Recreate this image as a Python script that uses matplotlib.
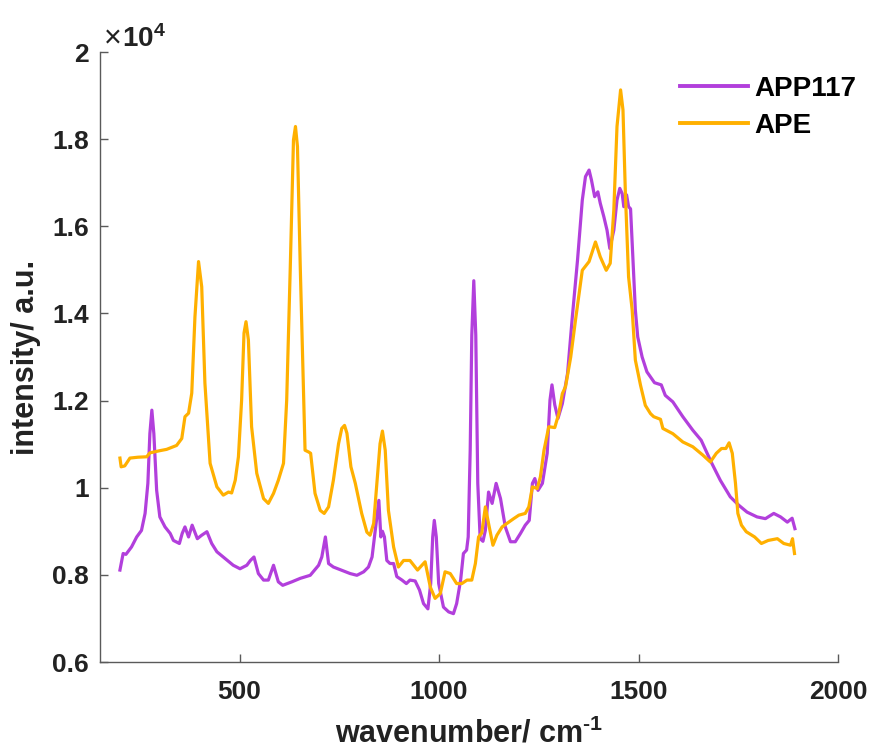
import matplotlib
matplotlib.use("Agg")
import matplotlib.pyplot as plt
from matplotlib.ticker import FuncFormatter

# ---------------- data (intensity in units of 1e4) ----------------
ape_x = [200, 203, 212, 225, 245, 267, 275, 300, 317, 342, 355, 363, 372, 380, 388, 397, 405, 413,
         426, 443, 459, 472, 480, 489, 497, 505, 511, 516, 522, 530, 543, 560, 572, 585, 597, 610,
         618, 627, 635, 640, 645, 652, 664, 673, 678, 689, 702, 712, 723, 735, 748, 756, 763, 769,
         779, 790, 806, 819, 827, 836, 844, 852, 858, 865, 873, 886, 898, 911, 927, 946, 965, 978,
         990, 1003, 1015, 1028, 1044, 1057, 1070, 1082, 1091, 1099, 1107, 1116, 1124, 1135, 1145,
         1158, 1170, 1187, 1200, 1216, 1225, 1234, 1246, 1254, 1263, 1275, 1290, 1300, 1309, 1317,
         1330, 1342, 1359, 1376, 1392, 1404, 1419, 1429, 1438, 1446, 1455, 1461, 1467, 1475, 1484,
         1492, 1505, 1517, 1530, 1538, 1555, 1561, 1586, 1611, 1636, 1661, 1680, 1695, 1708, 1719,
         1727, 1735, 1743, 1749, 1758, 1770, 1791, 1808, 1825, 1848, 1864, 1881, 1886, 1891]
ape_y = [1.068, 1.048, 1.050, 1.068, 1.070, 1.071, 1.080, 1.085, 1.088, 1.097, 1.113, 1.163, 1.171,
         1.217, 1.392, 1.519, 1.461, 1.240, 1.056, 1.002, 0.983, 0.990, 0.988, 1.017, 1.071, 1.201,
         1.355, 1.381, 1.339, 1.140, 1.033, 0.975, 0.964, 0.987, 1.017, 1.056, 1.201, 1.507, 1.798,
         1.829, 1.783, 1.507, 1.086, 1.082, 1.079, 0.987, 0.948, 0.941, 0.956, 1.017, 1.101, 1.136,
         1.143, 1.125, 1.048, 1.010, 0.941, 0.898, 0.891, 0.918, 1.010, 1.101, 1.130, 1.086, 0.948,
         0.864, 0.818, 0.833, 0.833, 0.811, 0.830, 0.772, 0.746, 0.757, 0.807, 0.803, 0.780, 0.780,
         0.788, 0.788, 0.826, 0.887, 0.896, 0.956, 0.918, 0.868, 0.891, 0.910, 0.918, 0.929, 0.937,
         0.941, 0.956, 1.002, 0.998, 1.025, 1.086, 1.140, 1.138, 1.170, 1.216, 1.232, 1.300, 1.385,
         1.499, 1.519, 1.564, 1.530, 1.499, 1.515, 1.637, 1.829, 1.913, 1.867, 1.676, 1.484, 1.408,
         1.293, 1.235, 1.189, 1.170, 1.163, 1.157, 1.136, 1.124, 1.105, 1.094, 1.075, 1.059, 1.079,
         1.090, 1.090, 1.103, 1.079, 1.010, 0.941, 0.914, 0.899, 0.887, 0.872, 0.879, 0.883, 0.872,
         0.868, 0.883, 0.849]

app_x = [200, 208, 215, 229, 242, 254, 263, 270, 275, 280, 285, 292, 300, 313, 326, 334, 349, 356,
         363, 372, 381, 394, 405, 418, 430, 443, 464, 484, 501, 518, 527, 536, 547, 560, 572, 585,
         597, 608, 631, 652, 677, 698, 706, 715, 723, 735, 752, 777, 794, 811, 823, 832, 838, 844,
         849, 854, 858, 863, 869, 877, 886, 894, 907, 918, 927, 940, 951, 961, 972, 979, 984, 988,
         993, 999, 1011, 1024, 1036, 1044, 1054, 1061, 1069, 1073, 1078, 1082, 1087, 1092, 1097,
         1103, 1110, 1116, 1124, 1133, 1143, 1154, 1166, 1179, 1191, 1204, 1216, 1226, 1234, 1240,
         1248, 1259, 1271, 1278, 1283, 1290, 1298, 1309, 1322, 1334, 1347, 1359, 1367, 1376, 1382,
         1390, 1398, 1404, 1413, 1421, 1428, 1438, 1446, 1453, 1459, 1463, 1470, 1475, 1480, 1486,
         1492, 1498, 1509, 1521, 1540, 1557, 1567, 1586, 1611, 1636, 1657, 1682, 1705, 1730, 1751,
         1772, 1797, 1818, 1839, 1856, 1873, 1885, 1892]
app_y = [0.811, 0.849, 0.847, 0.864, 0.887, 0.902, 0.941, 1.010, 1.124, 1.178, 1.124, 0.994, 0.933,
         0.910, 0.895, 0.879, 0.872, 0.895, 0.910, 0.887, 0.914, 0.883, 0.891, 0.899, 0.872, 0.853,
         0.837, 0.822, 0.814, 0.822, 0.833, 0.841, 0.803, 0.788, 0.788, 0.822, 0.784, 0.776, 0.784,
         0.792, 0.799, 0.822, 0.841, 0.887, 0.826, 0.818, 0.812, 0.803, 0.799, 0.807, 0.818, 0.841,
         0.887, 0.933, 0.971, 0.887, 0.900, 0.887, 0.833, 0.826, 0.826, 0.796, 0.788, 0.780, 0.788,
         0.786, 0.765, 0.734, 0.722, 0.780, 0.887, 0.925, 0.887, 0.780, 0.726, 0.715, 0.711, 0.734,
         0.788, 0.849, 0.857, 0.887, 1.086, 1.350, 1.475, 1.350, 1.010, 0.883, 0.877, 0.902, 0.990,
         0.964, 1.010, 0.975, 0.910, 0.876, 0.876, 0.895, 0.914, 0.925, 1.010, 1.021, 0.994, 1.010,
         1.079, 1.201, 1.236, 1.190, 1.159, 1.193, 1.262, 1.392, 1.522, 1.660, 1.714, 1.729, 1.706,
         1.668, 1.679, 1.653, 1.622, 1.591, 1.549, 1.591, 1.660, 1.687, 1.675, 1.645, 1.672, 1.645,
         1.640, 1.522, 1.408, 1.346, 1.300, 1.266, 1.241, 1.236, 1.212, 1.197, 1.163, 1.132, 1.109,
         1.059, 1.017, 0.979, 0.960, 0.944, 0.933, 0.929, 0.941, 0.933, 0.921, 0.930, 0.906]

series_names = ["APP117", "APE"]
x_ticks = [500, 1000, 1500, 2000]
y_ticks = [0.6, 0.8, 1.0, 1.2, 1.4, 1.6, 1.8, 2.0]
scale = 1e4

# ---------------- style ----------------
plt.rcParams['font.family'] = ['Liberation Sans', 'DejaVu Sans']
plt.rcParams['font.weight'] = 'bold'
plt.rcParams['mathtext.fontset'] = 'custom'
plt.rcParams['mathtext.rm'] = 'Liberation Sans:bold'
plt.rcParams['mathtext.bf'] = 'Liberation Sans:bold'
plt.rcParams['mathtext.default'] = 'bf'

purple = '#B23FDC'
orange = '#FFB000'
axis_col = '#5a5a5a'
text_col = '#222222'

fig = plt.figure(figsize=(8.7, 7.54), dpi=100)
ax = fig.add_axes([100/870, (754-662)/754, (838-100)/870, (662-52)/754])

ax.plot(app_x, [v*scale for v in app_y], color=purple, lw=2.3, label=series_names[0])
ax.plot(ape_x, [v*scale for v in ape_y], color=orange, lw=2.3, label=series_names[1])

ax.set_xlim(150, 2000)
ax.set_ylim(0.6*scale, 2.0*scale)
ax.set_xticks(x_ticks)
ax.set_yticks([t*scale for t in y_ticks])
ax.yaxis.set_major_formatter(FuncFormatter(lambda v, p: '%g' % round(v/scale, 3)))

for s in ['top', 'right']:
    ax.spines[s].set_visible(False)
for s in ['left', 'bottom']:
    ax.spines[s].set_color(axis_col)
    ax.spines[s].set_linewidth(1.0)

ax.tick_params(axis='both', direction='in', length=6, width=1.0, color=axis_col,
               labelsize=19, labelcolor=text_col)
ax.tick_params(axis='x', pad=13)
ax.tick_params(axis='y', pad=8)
for lab in ax.get_xticklabels() + ax.get_yticklabels():
    lab.set_fontweight('bold')

ax.set_xlabel(r'wavenumber/ cm$^{\text{-1}}$', fontsize=22, fontweight='bold', color=text_col,
              labelpad=10)
ax.set_ylabel('intensity/ a.u.', fontsize=22, fontweight='bold', color=text_col, labelpad=8)

fig.text(104/870, 1-47/754, '\u00d7', fontsize=22, fontweight='normal',
         color=text_col, ha='left', va='baseline')
fig.text(122/870, 1-47/754, r'10$^{4}$', fontsize=20, fontweight='bold',
         color=text_col, ha='left', va='baseline')

leg = ax.legend(loc='upper left', bbox_to_anchor=(669/870, 1-65/754), bbox_transform=fig.transFigure,
                frameon=False, fontsize=20, handlelength=2.45, handletextpad=0.22,
                labelspacing=0.38, borderaxespad=0)
for t in leg.get_texts():
    t.set_fontweight('bold')
    t.set_color('black')
for l in leg.get_lines():
    l.set_linewidth(2.8)

fig.savefig('out.png', dpi=100)
